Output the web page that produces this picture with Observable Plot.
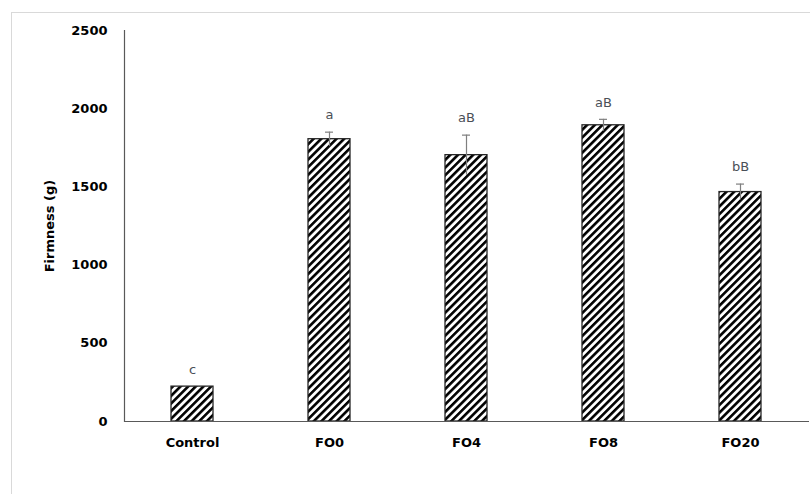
<!DOCTYPE html>
<html>
<head>
<meta charset="utf-8">
<script src="https://cdn.jsdelivr.net/npm/d3@7"></script>
<script src="https://cdn.jsdelivr.net/npm/@observablehq/plot@0.6"></script>
<style>
  body { margin: 0; background: #fff; }
  #wrap { position: relative; width: 810px; height: 494px; overflow: hidden; }
  #border { position: absolute; left: 11px; top: 12px; width: 820px; height: 500px; border: 1px solid #d9d9d9; box-sizing: border-box; }
  #wrap svg { position: absolute; left: 0; top: 0; }
</style>
</head>
<body>
<div id="wrap"><div id="border"></div></div>
<script>
// Firmness (g) of each treatment: mean, standard deviation and significance letters
const treatments = ["Control", "FO0", "FO4", "FO8", "FO20"];
const firmness = [223, 1805, 1703, 1894, 1467];
const sd = [0, 45, 128, 38, 51];
const letters = ["c", "a", "aB", "aB", "bB"];
const yTicks = [0, 500, 1000, 1500, 2000, 2500];

const rows = treatments.map((t, i) => ({
  treatment: t, value: firmness[i], sd: sd[i], label: letters[i],
  lo: firmness[i] - sd[i], hi: firmness[i] + sd[i]
}));
const withErr = rows.filter(d => d.sd > 0);

const font = "DejaVu Sans";

const chart = Plot.plot({
  width: 810,
  height: 494,
  marginLeft: 124,
  marginRight: 1,
  marginTop: 30,
  marginBottom: 73,
  style: { fontFamily: font, fontSize: "13px", background: "transparent", color: "#000" },
  x: { domain: treatments, paddingInner: 0.69, paddingOuter: 0.345 },
  y: { domain: [0, 2500] },
  marks: [
    Plot.barY(rows, { x: "treatment", y: "value", fill: "url(#hatch)", stroke: "#262626", strokeWidth: 1.3 }),
    Plot.ruleX(withErr, { x: "treatment", y1: "lo", y2: "hi", stroke: "#7f7f7f", strokeWidth: 1.2 }),
    Plot.tickY(withErr, { x: "treatment", y: "hi", stroke: "#7f7f7f", strokeWidth: 1.2, insetLeft: 17, insetRight: 17 }),
    Plot.text(rows, { x: "treatment", y: "hi", text: "label", dy: -17, fontSize: 13, fill: "#4a4f57" }),
    Plot.ruleY([0], { stroke: "#595959", strokeWidth: 1.2 }),
    Plot.frame({ anchor: "left", stroke: "#595959", strokeWidth: 1.2 }),
    Plot.axisY({ ticks: yTicks, tickFormat: d3.format("d"), tickSize: 0, tickPadding: 17,
      fontSize: 13, fontWeight: "bold",
      label: "Firmness (g)", labelAnchor: "center", labelOffset: 80, labelArrow: "none" }),
    Plot.axisX({ tickSize: 0, tickPadding: 16, fontSize: 13, fontWeight: "bold", label: null })
  ]
});

// Diagonal hatch fill used by the bars
const svg = d3.select(chart);
const defs = svg.insert("defs", ":first-child");
const pat = defs.append("pattern")
  .attr("id", "hatch")
  .attr("patternUnits", "userSpaceOnUse")
  .attr("width", 5.4).attr("height", 5.4)
  .attr("patternTransform", "rotate(45)");
pat.append("rect").attr("width", 5.4).attr("height", 5.4).attr("fill", "#fff");
pat.append("rect").attr("width", 2.6).attr("height", 5.4).attr("fill", "#000");

// axis label in bold
svg.selectAll("[aria-label='y-axis label'] text").attr("font-weight", "bold");

document.getElementById("wrap").appendChild(chart);
</script>
</body>
</html>
